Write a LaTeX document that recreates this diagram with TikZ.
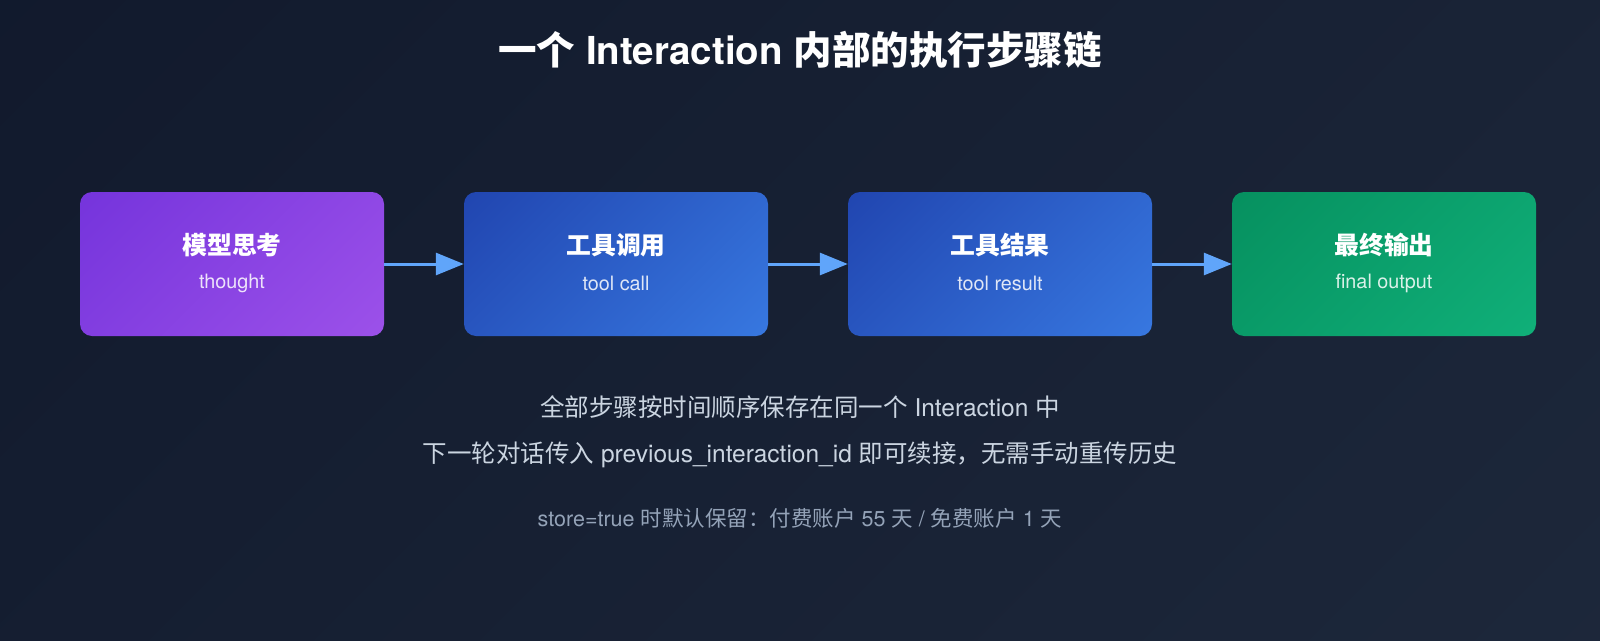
\documentclass[tikz,border=0pt]{standalone}
\usepackage{fontspec}
\setmainfont{TeX Gyre Heros}
\newfontfamily\cjk{Noto Sans CJK SC}
\usetikzlibrary{arrows.meta}
\definecolor{bgA}{HTML}{0F172A}
\definecolor{bgB}{HTML}{1F2A3D}
\definecolor{purA}{HTML}{6D2ED9}
\definecolor{purB}{HTML}{A457EC}
\definecolor{bluA}{HTML}{1C3BA6}
\definecolor{bluB}{HTML}{3C82EA}
\definecolor{grnA}{HTML}{048A5A}
\definecolor{grnB}{HTML}{12B67E}
\definecolor{arrowblue}{HTML}{60A5FA}
\definecolor{noteA}{HTML}{CBD5E1}
\definecolor{noteB}{HTML}{94A3B8}
\pgfdeclarehorizontalshading{purshade}{100bp}{color(0bp)=(purA); color(100bp)=(purB)}
\pgfdeclarehorizontalshading{blushade}{100bp}{color(0bp)=(bluA); color(100bp)=(bluB)}
\pgfdeclarehorizontalshading{grnshade}{100bp}{color(0bp)=(grnA); color(100bp)=(grnB)}
\pgfdeclarehorizontalshading{bgshade}{100bp}{color(0bp)=(bgA); color(100bp)=(bgB)}
\begin{document}
\begin{tikzpicture}[x=1pt,y=-1pt,
  stepbox/.style={minimum width=304pt, minimum height=144pt, inner sep=0pt,
    rounded corners=12pt, shade, shading angle=-45},
  purplebox/.style={stepbox, shading=purshade},
  bluebox/.style={stepbox, shading=blushade},
  greenbox/.style={stepbox, shading=grnshade},
  boxtitle/.style={text=white, inner sep=0pt, font=\bfseries\fontsize{24.8}{29}\selectfont},
  boxsub/.style={text=white, text opacity=0.85, inner sep=0pt, font=\fontsize{19.8}{23}\selectfont},
  flow/.style={draw=arrowblue, line width=3pt, -{Triangle[length=28pt,width=22pt]}},
  maintitle/.style={text=white, inner sep=0pt, font=\bfseries\fontsize{38.5}{44}\selectfont},
  note/.style={text=noteA, inner sep=0pt, font=\fontsize{24.5}{28}\selectfont},
  smallnote/.style={text=noteB, inner sep=0pt, font=\fontsize{21.5}{25}\selectfont}
]
\useasboundingbox (0,0) rectangle (1600,640);
\shade[shading=bgshade, shading angle=-45] (0,0) rectangle (1600,640);

\node[maintitle] (title) at (800,50) {{\cjk 一个} Interaction {\cjk 内部的执行步骤链}};

\node[purplebox] (b1) at (232,264) {};
\node[bluebox] (b2) at (616,264) {};
\node[bluebox] (b3) at (1000,264) {};
\node[greenbox] (b4) at (1384,264) {};

\node[boxtitle] (t1) at (232,245) {\cjk 模型思考};
\node[boxsub] (s1) at (232,283) {thought};
\node[boxtitle] (t2) at (616,245) {\cjk 工具调用};
\node[boxsub] (s2) at (616,283) {tool call};
\node[boxtitle] (t3) at (1000,245) {\cjk 工具结果};
\node[boxsub] (s3) at (1000,283) {tool result};
\node[boxtitle] (t4) at (1384,245) {\cjk 最终输出};
\node[boxsub] (s4) at (1384,283) {final output};

\draw[flow] (b1.east) -- (b2.west);
\draw[flow] (b2.east) -- (b3.west);
\draw[flow] (b3.east) -- (b4.west);

\node[note] (n1) at (800,407) {{\cjk 全部步骤按时间顺序保存在同一个} Interaction {\cjk 中}};
\node[note] (n2) at (800,455) {{\cjk 下一轮对话传入} previous\_interaction\_id {\cjk 即可续接，无需手动重传历史}};
\node[smallnote] (n3) at (800,518) {store=true {\cjk 时默认保留：付费账户} 55 {\cjk 天} / {\cjk 免费账户} 1 {\cjk 天}};
\end{tikzpicture}
\end{document}
